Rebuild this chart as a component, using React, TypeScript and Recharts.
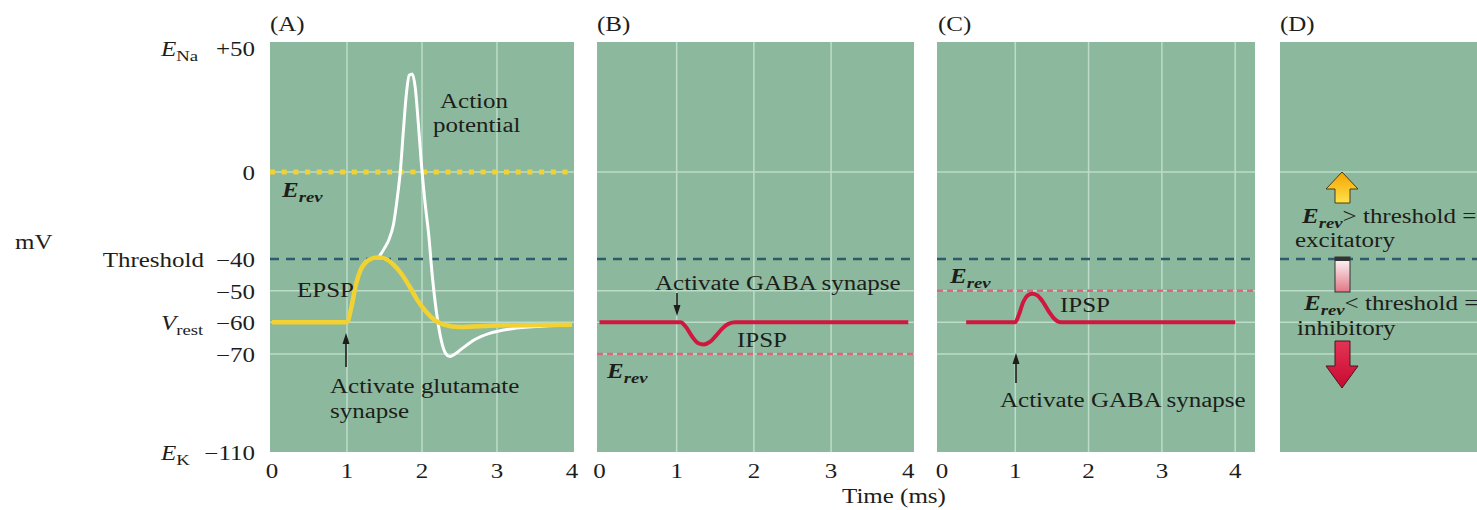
import React from "react";
import { LineChart, Line, XAxis, YAxis, CartesianGrid, ReferenceLine } from "recharts";

const SERIF = '"Liberation Serif", "Times New Roman", serif';
const INK = "#1d1d1b";
const PANEL_GREEN = "#8cb99d";
const GRID = "#bddcc9";
const YELLOW = "#f2d232";
const WHITE = "#ffffff";
const RED = "#d0173f";
const RED_DASH = "#d8687c";
const THRESH_BLUE = "#2d5a6e";
const STRETCH = 1.25; // the figure is drawn wider than tall, text too

// time axis (ms)
const TIME_TICKS = [0, 1, 2, 3, 4];

// membrane potential ticks (mV) and the names written beside some of them
const MV_TICKS = [50, 0, -40, -50, -60, -70, -110];
const MV_NAMES: Record<number, string[]> = {
  50: ["E", "Na"],
  [-40]: ["Threshold"],
  [-60]: ["V", "rest"],
  [-110]: ["E", "K"],
};
const THRESHOLD_MV = -40;
const GRID_MV = [0, -50, -60, -70];

// the mV axis of the figure is schematic: -70..-40 is drawn stretched
const AXIS_MV = [-110, -70, -40, 0, 50];
const AXIS_UNITS = [0, 98, 193, 280, 404];
const AXIS_TOP = 410;

// (A) glutamate synapse
const EPSP_T = [0, 1.0, 1.06, 1.12, 1.18, 1.25, 1.33, 1.42, 1.52, 1.62, 1.72, 1.83, 1.94, 2.05, 2.17, 2.3, 2.5, 3.0, 4.0];
const EPSP_MV = [-60, -60, -55, -48, -43.5, -41, -39.8, -39.3, -40, -41.8, -44.5, -48.5, -53, -56.5, -59.3, -60.8, -61.5, -61, -60.8];
const AP_T = [1.42, 1.5, 1.56, 1.62, 1.67, 1.71, 1.75, 1.79, 1.83, 1.87, 1.91, 1.95, 1.99, 2.04, 2.09, 2.14, 2.2, 2.26, 2.32, 2.37, 2.44, 2.55, 2.7, 2.9, 3.2, 3.6, 4.0];
const AP_MV = [-39.3, -35, -31, -24, -12, 0, 16, 31, 39, 39.5, 34, 20, 4, -14, -29, -46, -58, -66, -70, -71, -70, -68, -65.5, -63.5, -62, -61.2, -60.8];
const EREV_A = 0;

// (B) GABA synapse, E_rev below rest
const IPSP_B_T = [0, 1.05, 1.12, 1.2, 1.28, 1.35, 1.43, 1.51, 1.59, 1.67, 1.76, 4.0];
const IPSP_B_MV = [-60, -60, -61.5, -64.5, -66.6, -67, -66.2, -64.2, -62, -60.5, -60, -60];
const EREV_B = -70;

// (C) GABA synapse, E_rev between rest and threshold
const IPSP_C_T = [0.33, 1.0, 1.05, 1.11, 1.17, 1.23, 1.3, 1.37, 1.45, 1.53, 1.62, 4.0];
const IPSP_C_MV = [-60, -60, -57.5, -53.5, -51.5, -51, -51.5, -53.3, -56.3, -58.8, -60, -60];
const EREV_C = -50;

function warp(mv: number) {
  const n = AXIS_MV.length;
  for (let i = 0; i < n - 1; i++) {
    if (mv <= AXIS_MV[i + 1] || i === n - 2) {
      const f = (mv - AXIS_MV[i]) / (AXIS_MV[i + 1] - AXIS_MV[i]);
      return AXIS_UNITS[i] + f * (AXIS_UNITS[i + 1] - AXIS_UNITS[i]);
    }
  }
  return 0;
}

const rows = (ts: number[], vs: number[]) => ts.map((t, i) => ({ t, v: warp(vs[i]) }));

function TimeTick({ x, y, payload }: any) {
  return (
    <text
      transform={`translate(${x} ${y + 26}) scale(${STRETCH} 1)`}
      textAnchor="middle"
      fontFamily={SERIF}
      fontSize={20}
      fill={INK}
    >
      {payload.value}
    </text>
  );
}

function MvTick({ x, y, payload }: any) {
  const mv = MV_TICKS.find((m) => Math.abs(warp(m) - payload.value) < 1e-6) ?? 0;
  const name = MV_NAMES[mv];
  const num = mv > 0 ? `+${mv}` : mv < 0 ? `\u2212${-mv}` : "0";
  return (
    <g>
      <text
        transform={`translate(${x - 15} ${y + 8}) scale(${STRETCH} 1)`}
        textAnchor="end"
        fontFamily={SERIF}
        fontSize={20}
        fill={INK}
      >
        {num}
      </text>
      {name && name.length === 2 && (
        <text transform={`translate(${x - 109} ${y + 8}) scale(${STRETCH} 1)`} fontFamily={SERIF} fontSize={20} fill={INK}>
          <tspan fontStyle="italic">{name[0]}</tspan>
          <tspan fontSize={15} dy={5}>{name[1]}</tspan>
        </text>
      )}
      {name && name.length === 1 && (
        <text
          transform={`translate(${x - 66} ${y + 8}) scale(${STRETCH} 1)`}
          textAnchor="end"
          fontFamily={SERIF}
          fontSize={20}
          fill={INK}
        >
          {name[0]}
        </text>
      )}
    </g>
  );
}

function Panel({ left, width, xDomain, gridT, yAxis, xTicks, erev, children }: any) {
  const yw = yAxis ? 270 : 0;
  return (
    <div style={{ position: "absolute", left, top: 0 }}>
      <LineChart width={width + yw} height={510} margin={{ top: 42, right: 0, bottom: xTicks ? 0 : 58, left: 0 }}>
        <CartesianGrid fill={PANEL_GREEN} fillOpacity={1} horizontal={false} vertical={false} stroke="none" />
        <XAxis
          type="number"
          dataKey="t"
          domain={xDomain}
          allowDataOverflow
          ticks={TIME_TICKS}
          interval={0}
          hide={!xTicks}
          height={58}
          tickLine={false}
          axisLine={false}
          tickSize={0}
          tickMargin={0}
          tick={<TimeTick />}
        />
        <YAxis
          type="number"
          domain={[0, AXIS_TOP]}
          allowDataOverflow
          ticks={MV_TICKS.map(warp)}
          interval={0}
          hide={!yAxis}
          width={270}
          tickLine={false}
          axisLine={false}
          tickSize={0}
          tickMargin={0}
          tick={<MvTick />}
        />
        {GRID_MV.map((m) => (
          <ReferenceLine key={`h${m}`} y={warp(m)} stroke={GRID} strokeWidth={1.5} />
        ))}
        {gridT.map((t: number) => (
          <ReferenceLine key={`v${t}`} x={t} stroke={GRID} strokeWidth={1.5} />
        ))}
        <ReferenceLine y={warp(THRESHOLD_MV)} stroke={THRESH_BLUE} strokeWidth={2.5} strokeDasharray="9 7" />
        {erev}
        {children}
      </LineChart>
    </div>
  );
}

function Label({ x, y, anchor = "start", size = 20, bold = false, italic = false, children }: any) {
  return (
    <text
      transform={`translate(${x} ${y}) scale(${STRETCH} 1)`}
      textAnchor={anchor}
      fontFamily={SERIF}
      fontSize={size}
      fill={INK}
      fontWeight={bold ? 700 : 400}
      fontStyle={italic ? "italic" : "normal"}
    >
      {children}
    </text>
  );
}

function ErevLabel({ x, y }: any) {
  return (
    <Label x={x} y={y} bold italic>
      E<tspan fontSize={15} dy={5}>rev</tspan>
    </Label>
  );
}

function Arrow({ x, y1, y2 }: any) {
  // small pointer: head at y2
  const dir = y2 < y1 ? 1 : -1;
  return (
    <g>
      <line x1={x} y1={y1} x2={x} y2={y2 + dir * 8} stroke={INK} strokeWidth={1.6} />
      <polygon points={`${x},${y2} ${x - 3.5},${y2 + dir * 11} ${x + 3.5},${y2 + dir * 11}`} fill={INK} />
    </g>
  );
}

function Overlay() {
  return (
    <svg width={1477} height={510} style={{ position: "absolute", left: 0, top: 0, pointerEvents: "none" }}>
      <defs>
        <linearGradient id="upArrow" x1="0" y1="0" x2="0" y2="1">
          <stop offset="0%" stopColor="#f5a300" />
          <stop offset="100%" stopColor="#ffe24a" />
        </linearGradient>
        <linearGradient id="downArrow" x1="0" y1="0" x2="0" y2="1">
          <stop offset="0%" stopColor="#e43355" />
          <stop offset="100%" stopColor="#c80a30" />
        </linearGradient>
        <linearGradient id="midBar" x1="0" y1="0" x2="0" y2="1">
          <stop offset="0%" stopColor="#ffffff" />
          <stop offset="100%" stopColor="#e27686" />
        </linearGradient>
      </defs>

      <Label x={15} y={249}>mV</Label>
      <Label x={842} y={503}>Time (ms)</Label>
      <Label x={270} y={31}>(A)</Label>
      <Label x={597} y={31}>(B)</Label>
      <Label x={938} y={31}>(C)</Label>
      <Label x={1280} y={31}>(D)</Label>

      {/* (A) */}
      <Label x={440} y={108}>Action</Label>
      <Label x={433} y={132}>potential</Label>
      <ErevLabel x={282} y={197} />
      <Label x={297} y={297}>EPSP</Label>
      <Arrow x={346} y1={367} y2={333} />
      <Label x={330} y={393}>Activate glutamate</Label>
      <Label x={330} y={418}>synapse</Label>

      {/* (B) */}
      <Label x={655} y={290}>Activate GABA synapse</Label>
      <Arrow x={677} y1={293} y2={316} />
      <Label x={737} y={347}>IPSP</Label>
      <ErevLabel x={607} y={378} />

      {/* (C) */}
      <ErevLabel x={950} y={283} />
      <Label x={1060} y={312}>IPSP</Label>
      <Arrow x={1016} y1={383} y2={353} />
      <Label x={1000} y={407}>Activate GABA synapse</Label>

      {/* (D) */}
      <polygon
        points="1342,172 1358,189 1350,189 1350,203 1335,203 1335,189 1326,189"
        fill="url(#upArrow)"
        stroke="#4a3d1a"
        strokeWidth={1}
      />
      <Label x={1302} y={223}>
        <tspan fontWeight={700} fontStyle="italic">E</tspan>
        <tspan fontWeight={700} fontStyle="italic" fontSize={15} dy={5}>rev</tspan>
        <tspan dy={-5}>&gt; threshold =</tspan>
      </Label>
      <Label x={1295} y={247}>excitatory</Label>
      <rect x={1335} y={257} width={15} height={35} fill="url(#midBar)" stroke="#333" strokeWidth={1} />
      <rect x={1335} y={257} width={15} height={4} fill="#333" />
      <Label x={1304} y={310}>
        <tspan fontWeight={700} fontStyle="italic">E</tspan>
        <tspan fontWeight={700} fontStyle="italic" fontSize={15} dy={5}>rev</tspan>
        <tspan dy={-5}>&lt; threshold =</tspan>
      </Label>
      <Label x={1297} y={335}>inhibitory</Label>
      <polygon
        points="1335,341 1350,341 1350,366 1358,366 1342,388 1326,366 1335,366"
        fill="url(#downArrow)"
        stroke="#4a1420"
        strokeWidth={1}
      />
    </svg>
  );
}

export default function App() {
  return (
    <div style={{ position: "absolute", left: 0, top: 0, width: 1477, height: 510, overflow: "hidden", background: "#fff" }}>
      <style>{".recharts-surface{overflow:visible}"}</style>
      <Panel
        left={0}
        width={304}
        xDomain={[-0.027, 4.027]}
        gridT={[1, 2, 3]}
        yAxis
        xTicks
        erev={<ReferenceLine y={warp(EREV_A)} stroke={YELLOW} strokeWidth={5} strokeDasharray="5 6.7" />}
      >
        <Line data={rows(AP_T, AP_MV)} dataKey="v" type="monotone" stroke={WHITE} strokeWidth={3} dot={false} isAnimationActive={false} />
        <Line data={rows(EPSP_T, EPSP_MV)} dataKey="v" type="monotone" stroke={YELLOW} strokeWidth={4.5} dot={false} isAnimationActive={false} />
      </Panel>
      <Panel
        left={597}
        width={317}
        xDomain={[-0.032, 4.074]}
        gridT={[1, 2, 3]}
        xTicks
        erev={<ReferenceLine y={warp(EREV_B)} stroke={RED_DASH} strokeWidth={2.5} strokeDasharray="6 4" />}
      >
        <Line data={rows(IPSP_B_T, IPSP_B_MV)} dataKey="v" type="monotone" stroke={RED} strokeWidth={4} dot={false} isAnimationActive={false} />
      </Panel>
      <Panel
        left={937}
        width={318}
        xDomain={[-0.068, 4.27]}
        gridT={[1, 2, 3, 4]}
        xTicks
        erev={<ReferenceLine y={warp(EREV_C)} stroke={RED_DASH} strokeWidth={2.5} strokeDasharray="6 4" />}
      >
        <Line data={rows(IPSP_C_T, IPSP_C_MV)} dataKey="v" type="monotone" stroke={RED} strokeWidth={4} dot={false} isAnimationActive={false} />
      </Panel>
      <Panel left={1280} width={220} xDomain={[0, 4]} gridT={[]} erev={null} />
      <Overlay />
    </div>
  );
}
